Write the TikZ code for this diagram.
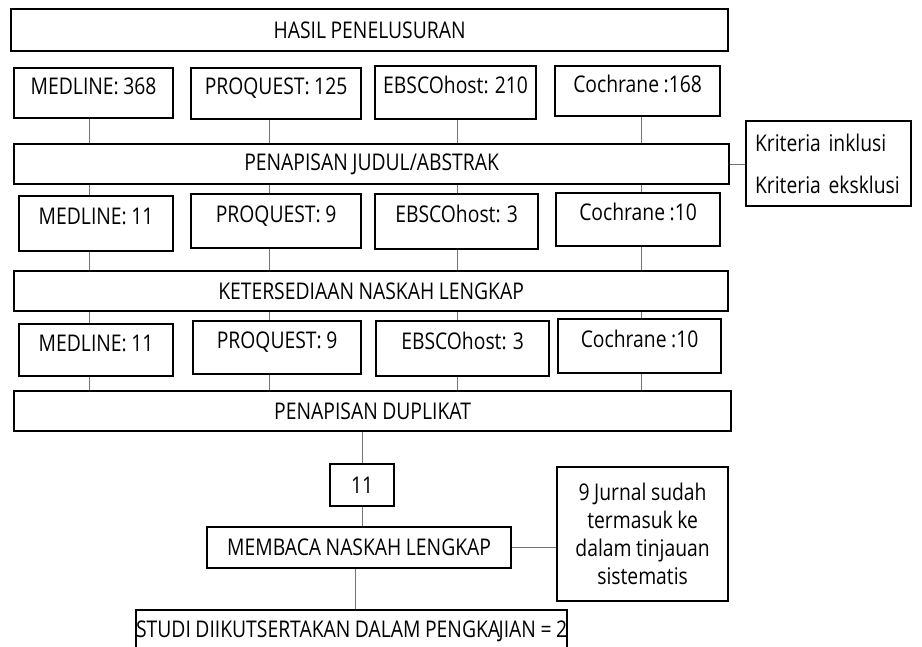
\documentclass[tikz,border=0pt]{standalone}
\usepackage{fontspec}
\setmainfont{Open Sans}[FakeStretch=0.84,WordSpace=0.9]
\begin{document}
\begin{tikzpicture}[x=1pt,y=-1pt,
  box/.style={draw=black,line width=2.2pt,anchor=north west,inner sep=0pt,font=\fontsize{23}{28}\selectfont},
  rowbox/.style={box,text height=16pt,text depth=14pt},
  link/.style={draw=black!55,line width=0.8pt}]
\useasboundingbox[fill=white] (0,0) rectangle (922,646);
\newcommand{\bx}[7][]{\node[box,#1,minimum width=#5-#3,minimum height=#6-#4] (#2) at (#3,#4) {#7};}
\bx{hasil}{10}{8}{727}{50}{HASIL PENELUSURAN}
\bx[rowbox]{a1}{13}{67}{172}{117}{MEDLINE: 368}
\bx[rowbox]{a2}{190}{67}{360}{118}{PROQUEST: 125}
\bx[rowbox]{a3}{374}{65}{535}{118}{EBSCOhost: 210}
\bx[rowbox]{a4}{554}{65}{719}{115}{Cochrane :168}
\bx{judul}{13}{143}{728}{183}{PENAPISAN JUDUL/ABSTRAK}
\node[box,minimum width=165,minimum height=85,align=left,text width=157,
  font=\fontsize{23}{42}\selectfont] (krit) at (745,120) {\hspace*{5pt}Kriteria inklusi\\\hspace*{5pt}Kriteria eksklusi};
\bx[rowbox]{b1}{18}{195}{172}{250}{MEDLINE: 11}
\bx[rowbox]{b2}{190}{193}{360}{247}{PROQUEST: 9}
\bx[rowbox]{b3}{374}{193}{537}{248}{EBSCOhost: 3}
\bx[rowbox]{b4}{555}{192}{719}{245}{Cochrane :10}
\bx{naskah}{13}{270}{727}{310}{KETERSEDIAAN NASKAH LENGKAP}
\bx[rowbox]{c1}{18}{323}{172}{375}{MEDLINE: 11}
\bx[rowbox]{c2}{192}{320}{360}{373}{PROQUEST: 9}
\bx[rowbox]{c3}{375}{320}{548}{375}{EBSCOhost: 3}
\bx[rowbox]{c4}{557}{318}{720}{372}{Cochrane :10}
\bx{dup}{13}{390}{730}{430}{PENAPISAN DUPLIKAT}
\bx{n11}{329}{463}{393}{505}{11}
\bx{baca}{206}{526}{510}{567}{MEMBACA NASKAH LENGKAP}
\node[box,minimum width=171,minimum height=134,align=center] (jurnal) at (556,466) {9 Jurnal sudah\\termasuk ke\\dalam tinjauan\\sistematis};
\bx{studi}{135}{609}{543}{652}{STUDI DIIKUTSERTAKAN DALAM PENGKA\kern-1.5pt JIAN = 2}
% connectors
\foreach \s/\x in {a1/89,a2/269,a3/457,a4/641}{
  \draw[link] (\s.south -| \x,0) -- (judul.north -| \x,0);}
\foreach \t/\x in {b1/89,b2/269,b3/457,b4/641}{
  \draw[link] (judul.south -| \x,0) -- (\t.north -| \x,0);
  \draw[link] (\t.south -| \x,0) -- (naskah.north -| \x,0);}
\foreach \t/\x in {c1/89,c2/269,c3/457,c4/641}{
  \draw[link] (naskah.south -| \x,0) -- (\t.north -| \x,0);
  \draw[link] (\t.south -| \x,0) -- (dup.north -| \x,0);}
\draw[link] (judul.east) -- (krit.west |- judul.east);
\draw[link] (dup.south -| n11.south) -- (n11.north);
\draw[link] (n11.south) -- (baca.north -| n11.south);
\draw[link] (baca.east) -- (jurnal.west |- baca.east);
\draw[link] (baca.south -| 355,0) -- (studi.north -| 355,0);
\end{tikzpicture}
\end{document}
